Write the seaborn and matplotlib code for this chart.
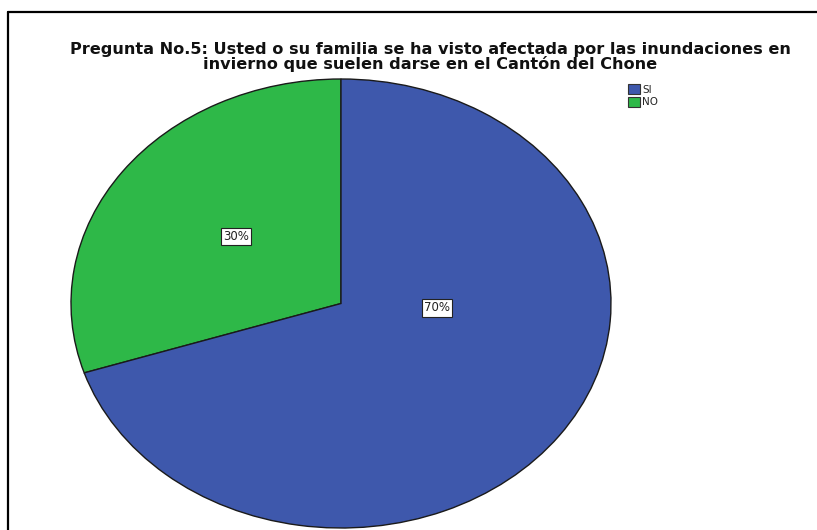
import matplotlib
matplotlib.use("Agg")
import matplotlib.pyplot as plt
import seaborn as sns
from matplotlib.patches import Patch

sns.set_theme(style="white")
plt.rcParams['font.family'] = ['DejaVu Sans']

categories = ["SI", "NO"]
percentages = [70, 30]
colors = ["#3E58AC", "#2EB848"]
title = ("Pregunta No.5: Usted o su familia se ha visto afectada por las inundaciones en\n"
         "invierno que suelen darse en el Cantón del Chone")

W, H = 817, 530
fig = plt.figure(figsize=(W / 100, H / 100), dpi=100)
fig.patch.set_facecolor("white")

# frame border (left and top visible)
fig.add_artist(plt.Line2D([7.5 / W, 7.5 / W], [0, 1 - 12 / H], color="black", lw=1.6,
                          transform=fig.transFigure))
fig.add_artist(plt.Line2D([7.5 / W, 1], [1 - 12 / H, 1 - 12 / H], color="black", lw=1.6,
                          transform=fig.transFigure))

ax = fig.add_axes([71 / W, 2 / H, 540 / W, 449 / H])
order = [1, 0]  # NO drawn first counter-clockwise from 12 o'clock
wedges, texts, autotexts = ax.pie(
    [percentages[i] for i in order],
    colors=[colors[i] for i in order],
    startangle=90, counterclock=True,
    autopct="%1.0f%%", pctdistance=0.5,
    wedgeprops=dict(edgecolor="#1a1a1a", linewidth=1.0),
    textprops=dict(fontsize=8.5, color="#222222"),
)
ax.set_aspect("auto")
ax.set_xlim(-1, 1)
ax.set_ylim(-1, 1)
ax.axis("off")

# label positions like SPSS
autotexts[0].set_position((-0.39, 0.30))
autotexts[1].set_position((0.356, -0.02))
for t in autotexts:
    t.set_bbox(dict(facecolor="white", edgecolor="#222222", linewidth=0.8, pad=1.5))

fig.text(430 / W, 1 - 57 / H, title, ha="center", va="center", fontsize=11.6,
         fontweight="bold", color="#111111", linespacing=0.9)

handles = [Patch(facecolor=colors[i], edgecolor="#333333", linewidth=0.8, label=categories[i])
           for i in range(len(categories))]
fig.legend(handles=handles, loc="upper left", bbox_to_anchor=(621 / W, 1 - 77 / H),
           frameon=False, fontsize=7.5, handlelength=1.1, handleheight=1.1,
           handletextpad=0.25, labelspacing=0.2, borderpad=0.2)

fig.savefig("out.png", dpi=100)
